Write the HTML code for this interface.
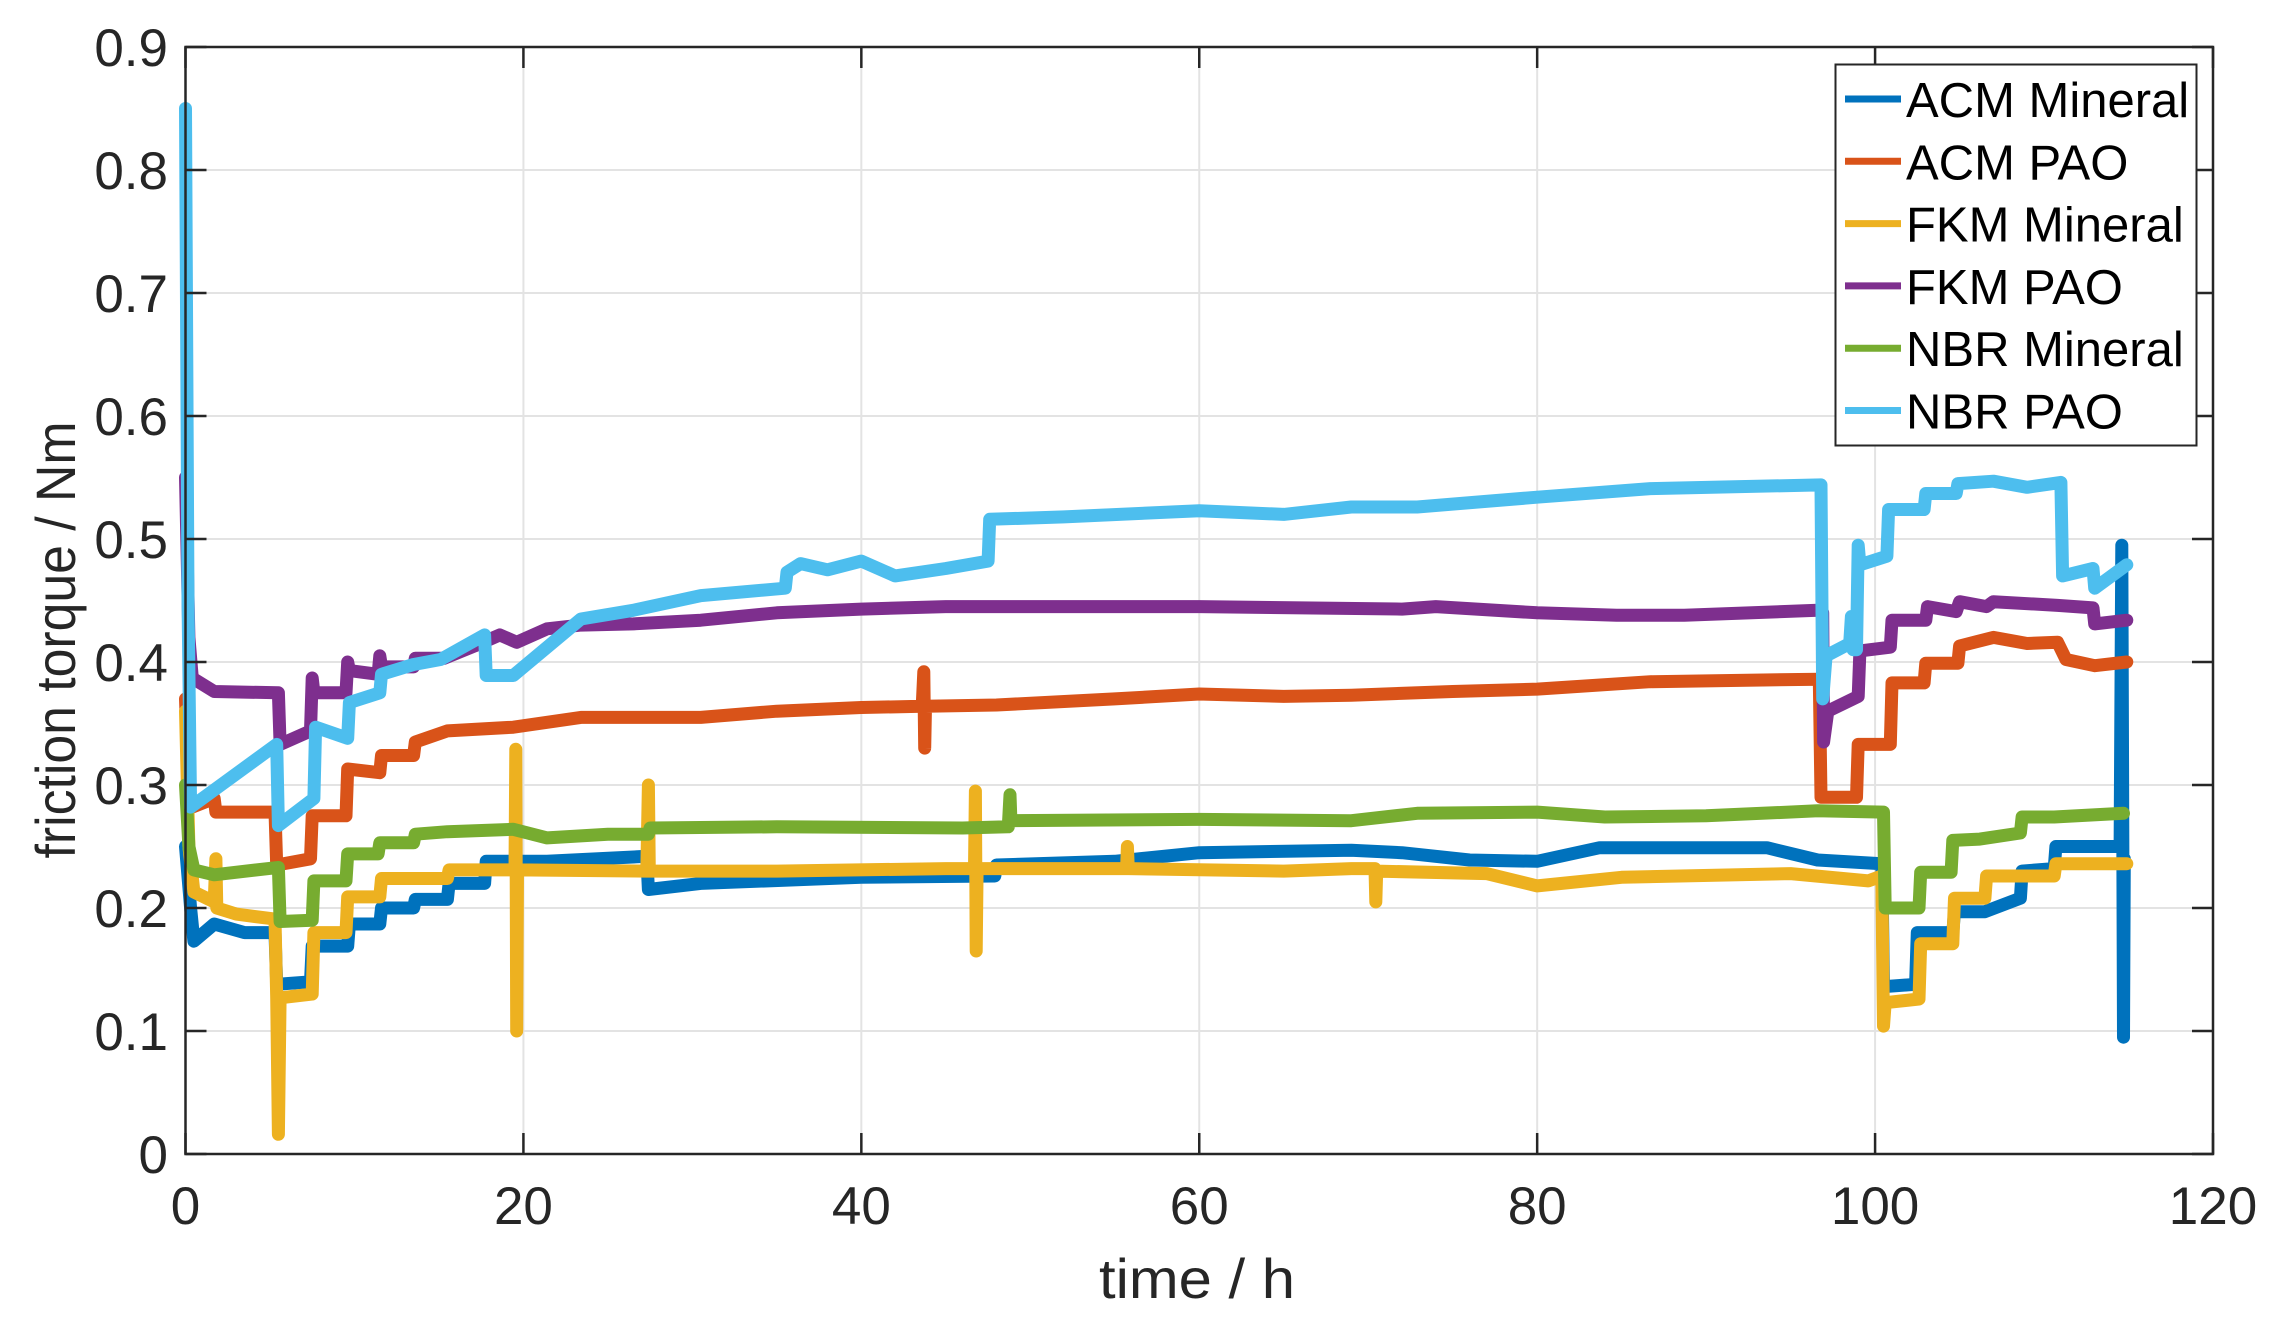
<!DOCTYPE html>
<html><head><meta charset="utf-8"><style>
html,body{margin:0;padding:0;background:#fff}
svg{display:block}
text{font-family:"Liberation Sans",Arial,sans-serif}
</style></head><body>
<svg id="chart" xmlns="http://www.w3.org/2000/svg" width="2285" height="1327" viewBox="0 0 2285 1327">
<rect x="0" y="0" width="2285" height="1327" fill="#fff"/>
<g id="grid"></g>
<g id="series"></g>
<g id="axes"></g>
<text x="1197" y="1298" font-size="56" fill="#262626" text-anchor="middle" textLength="196" lengthAdjust="spacingAndGlyphs">time / h</text>
<text x="0" y="0" transform="translate(75,640) rotate(-90)" font-size="56" fill="#262626" text-anchor="middle" textLength="437" lengthAdjust="spacingAndGlyphs">friction torque / Nm</text>
<g id="legend"></g>
</svg>
<script>
const xTicks = [0, 20, 40, 60, 80, 100, 120];
const yTicks = [0, 0.1, 0.2, 0.3, 0.4, 0.5, 0.6, 0.7, 0.8, 0.9];
const yTickLabels = ["0", "0.1", "0.2", "0.3", "0.4", "0.5", "0.6", "0.7", "0.8", "0.9"];
const seriesNames = ["ACM Mineral", "ACM PAO", "FKM Mineral", "FKM PAO", "NBR Mineral", "NBR PAO"];
const seriesColors = ["#0072BD", "#D95319", "#EDB120", "#7E2F8E", "#77AC30", "#4DBEEE"];

const acmMineral = [[0,0.25],[0.3,0.2],[0.5,0.173],[1.7,0.187],[3.5,0.18],[5.3,0.18],[5.4,0.138],[7.4,0.14],[7.5,0.169],[9.6,0.169],[9.7,0.187],[11.5,0.187],[11.6,0.2],[13.5,0.2],[13.6,0.207],[15.5,0.207],[15.6,0.22],[17.7,0.22],[17.8,0.238],[21.4,0.238],[27.3,0.242],[27.4,0.215],[30.5,0.22],[40,0.225],[47.9,0.226],[48,0.235],[55,0.238],[60,0.245],[69,0.247],[72,0.245],[76,0.239],[80,0.238],[83.7,0.249],[93.6,0.249],[96.6,0.239],[100.4,0.236],[100.5,0.136],[102.4,0.138],[102.5,0.18],[104.6,0.18],[104.7,0.197],[106.5,0.197],[108.6,0.208],[108.7,0.23],[110.6,0.232],[110.7,0.25],[114.5,0.25],[114.6,0.495],[114.7,0.095],[114.75,0.24]];
const acmPao = [[0,0.37],[0.2,0.29],[0.4,0.282],[1.7,0.289],[1.8,0.278],[5.3,0.278],[5.4,0.235],[7.4,0.24],[7.5,0.275],[9.5,0.275],[9.6,0.313],[11.5,0.31],[11.6,0.324],[13.5,0.324],[13.6,0.335],[15.5,0.344],[19.4,0.347],[23.4,0.355],[30.5,0.355],[35,0.36],[40,0.363],[43.6,0.364],[43.7,0.392],[43.75,0.33],[43.8,0.364],[48,0.365],[55,0.37],[60,0.374],[65,0.372],[69,0.373],[75,0.376],[80,0.378],[86.7,0.384],[96.7,0.386],[96.8,0.29],[98.9,0.29],[99,0.333],[100.9,0.333],[101,0.383],[102.9,0.383],[103,0.399],[104.9,0.399],[105,0.413],[107,0.42],[109,0.415],[110.8,0.416],[111.3,0.402],[113,0.397],[114.9,0.4]];
const fkmMineral = [[0,0.36],[0.2,0.25],[0.5,0.213],[1.7,0.205],[1.8,0.24],[1.85,0.2],[3,0.195],[5.3,0.191],[5.4,0.127],[5.5,0.016],[5.6,0.127],[7.5,0.13],[7.6,0.18],[9.5,0.18],[9.6,0.209],[11.5,0.209],[11.6,0.224],[15.5,0.224],[15.6,0.231],[19.5,0.231],[19.55,0.329],[19.6,0.1],[19.65,0.231],[27.3,0.23],[27.4,0.3],[27.45,0.23],[35,0.23],[45,0.232],[46.7,0.232],[46.75,0.295],[46.8,0.165],[46.85,0.232],[55.7,0.232],[55.75,0.25],[55.8,0.232],[65,0.23],[69,0.232],[70.4,0.232],[70.45,0.205],[70.5,0.23],[77,0.228],[80,0.218],[85,0.225],[95,0.228],[99.6,0.222],[100.4,0.226],[100.5,0.104],[100.6,0.123],[102.6,0.126],[102.7,0.171],[104.6,0.171],[104.7,0.208],[106.5,0.208],[106.6,0.226],[110.6,0.226],[110.7,0.236],[114.9,0.236]];
const fkmPao = [[0,0.55],[0.2,0.42],[0.4,0.387],[1.7,0.376],[5.5,0.375],[5.6,0.333],[7.4,0.344],[7.5,0.387],[7.6,0.375],[9.5,0.375],[9.6,0.4],[9.7,0.393],[11.4,0.39],[11.5,0.405],[11.6,0.396],[13.5,0.396],[13.6,0.403],[15.3,0.403],[17.1,0.413],[18.6,0.422],[19.6,0.416],[21.4,0.427],[23.4,0.43],[26.5,0.431],[30.5,0.434],[35,0.44],[40,0.443],[45,0.445],[60,0.445],[72,0.443],[74,0.445],[80,0.44],[84.7,0.438],[88.7,0.438],[96.6,0.442],[96.9,0.44],[96.95,0.335],[97.2,0.36],[99,0.372],[99.1,0.409],[100.9,0.412],[101,0.434],[103,0.434],[103.1,0.445],[104.8,0.441],[105,0.449],[106.6,0.445],[107,0.449],[110.8,0.446],[112.9,0.444],[113,0.431],[114.9,0.434]];
const nbrMineral = [[0,0.3],[0.2,0.25],[0.5,0.231],[1.7,0.227],[5.5,0.233],[5.6,0.189],[7.5,0.19],[7.6,0.222],[9.5,0.222],[9.6,0.244],[11.4,0.244],[11.5,0.253],[13.5,0.253],[13.6,0.26],[15.5,0.262],[19.4,0.264],[21.4,0.257],[25,0.26],[27.4,0.26],[27.5,0.265],[35,0.266],[46,0.265],[48.7,0.266],[48.8,0.292],[48.85,0.271],[60,0.272],[69,0.271],[72.9,0.277],[80,0.278],[84,0.274],[90,0.275],[96.6,0.279],[100.5,0.278],[100.6,0.2],[102.6,0.2],[102.7,0.229],[104.5,0.229],[104.6,0.255],[106.2,0.256],[108.6,0.261],[108.7,0.274],[110.6,0.274],[114.7,0.277]];
const nbrPao = [[0,0.85],[0.15,0.45],[0.3,0.282],[5.4,0.333],[5.5,0.267],[7.6,0.289],[7.7,0.347],[9.6,0.338],[9.7,0.367],[11.5,0.375],[11.6,0.39],[13.5,0.398],[15.1,0.402],[17.7,0.422],[17.8,0.389],[19.4,0.389],[23.4,0.435],[26.5,0.442],[30.5,0.454],[35.5,0.46],[35.6,0.473],[36.4,0.48],[38,0.475],[40,0.482],[42,0.47],[45,0.476],[47.5,0.482],[47.6,0.516],[52,0.518],[60,0.523],[65,0.52],[69,0.526],[72.9,0.526],[80,0.534],[86.7,0.541],[96.8,0.544],[96.9,0.37],[97.1,0.405],[98.5,0.415],[98.6,0.437],[98.7,0.41],[98.9,0.41],[99,0.495],[99.1,0.479],[100.7,0.486],[100.8,0.524],[102.9,0.524],[103,0.537],[104.8,0.537],[104.9,0.545],[107,0.547],[109,0.542],[111,0.546],[111.1,0.47],[112.9,0.476],[113,0.46],[114.9,0.479]];

const allSeries = [acmMineral, acmPao, fkmMineral, fkmPao, nbrMineral, nbrPao];

const X0 = 185.5, X1 = 2213, Y0 = 1154, Y1 = 47;
const xMin = 0, xMax = 120, yMin = 0, yMax = 0.9;
function xScale(t){ return X0 + (t - xMin) / (xMax - xMin) * (X1 - X0); }
function yScale(v){ return Y0 - (v - yMin) / (yMax - yMin) * (Y0 - Y1); }
const NS = "http://www.w3.org/2000/svg";
function mk(tag, attrs, parent){ const e = document.createElementNS(NS, tag); for (const k in attrs) e.setAttribute(k, attrs[k]); parent.appendChild(e); return e; }

const grid = document.getElementById('grid');
const axes = document.getElementById('axes');
xTicks.forEach((t,i) => {
  const x = xScale(t);
  if (i > 0 && i < xTicks.length-1) {
    const g = mk('line', {x1:x, x2:x, y1:Y1, y2:Y0, stroke:'#e3e3e3', 'stroke-width':2}, grid);
    
    
  }
  const tb = mk('line', {x1:x, x2:x, y1:Y0, y2:Y0-21, stroke:'#262626', 'stroke-width':2.5}, axes);
  
  
  const tt = mk('line', {x1:x, x2:x, y1:Y1, y2:Y1+21, stroke:'#262626', 'stroke-width':2.5}, axes);
  
  
  const lb = mk('text', {x:x, y:1224, 'font-size':53, fill:'#262626', 'text-anchor':'middle'}, axes);
  lb.textContent = String(t);
  
  
});
yTicks.forEach((v,i) => {
  const y = yScale(v);
  if (i > 0 && i < yTicks.length-1) {
    const g = mk('line', {x1:X0, x2:X1, y1:y, y2:y, stroke:'#e3e3e3', 'stroke-width':2}, grid);
    
    
  }
  const tl = mk('line', {x1:X0, x2:X0+21, y1:y, y2:y, stroke:'#262626', 'stroke-width':2.5}, axes);
  
  
  const tr = mk('line', {x1:X1, x2:X1-21, y1:y, y2:y, stroke:'#262626', 'stroke-width':2.5}, axes);
  
  
  const lb = mk('text', {x:168, y:y+19, 'font-size':53, fill:'#262626', 'text-anchor':'end'}, axes);
  lb.textContent = yTickLabels[i];
  
  
});
const frame = mk('rect', {x:X0, y:Y1, width:X1-X0, height:Y0-Y1, fill:'none', stroke:'#262626', 'stroke-width':2.5}, axes);



const sg = document.getElementById('series');
allSeries.forEach((pts, k) => {
  const d = pts.map((p,j) => (j ? 'L' : 'M') + xScale(p[0]).toFixed(1) + ' ' + yScale(p[1]).toFixed(1)).join(' ');
  const path = mk('path', {d:d, fill:'none', stroke:seriesColors[k], 'stroke-width':13, 'stroke-linejoin':'round', 'stroke-linecap':'round'}, sg);
  
  
});

const lg = document.getElementById('legend');
const box = mk('rect', {x:1835.5, y:64.5, width:361, height:381, fill:'#fff', stroke:'#262626', 'stroke-width':2}, lg);


seriesNames.forEach((n, k) => {
  const y = 99 + k * 62.3;
  const ln = mk('line', {x1:1845, x2:1901, y1:y, y2:y, stroke:seriesColors[k], 'stroke-width':7}, lg);
  
  
  const tx = mk('text', {x:1906, y:y+18, 'font-size':49, fill:'#000'}, lg);
  tx.textContent = n;
  
  
});
</script>
</body></html>
